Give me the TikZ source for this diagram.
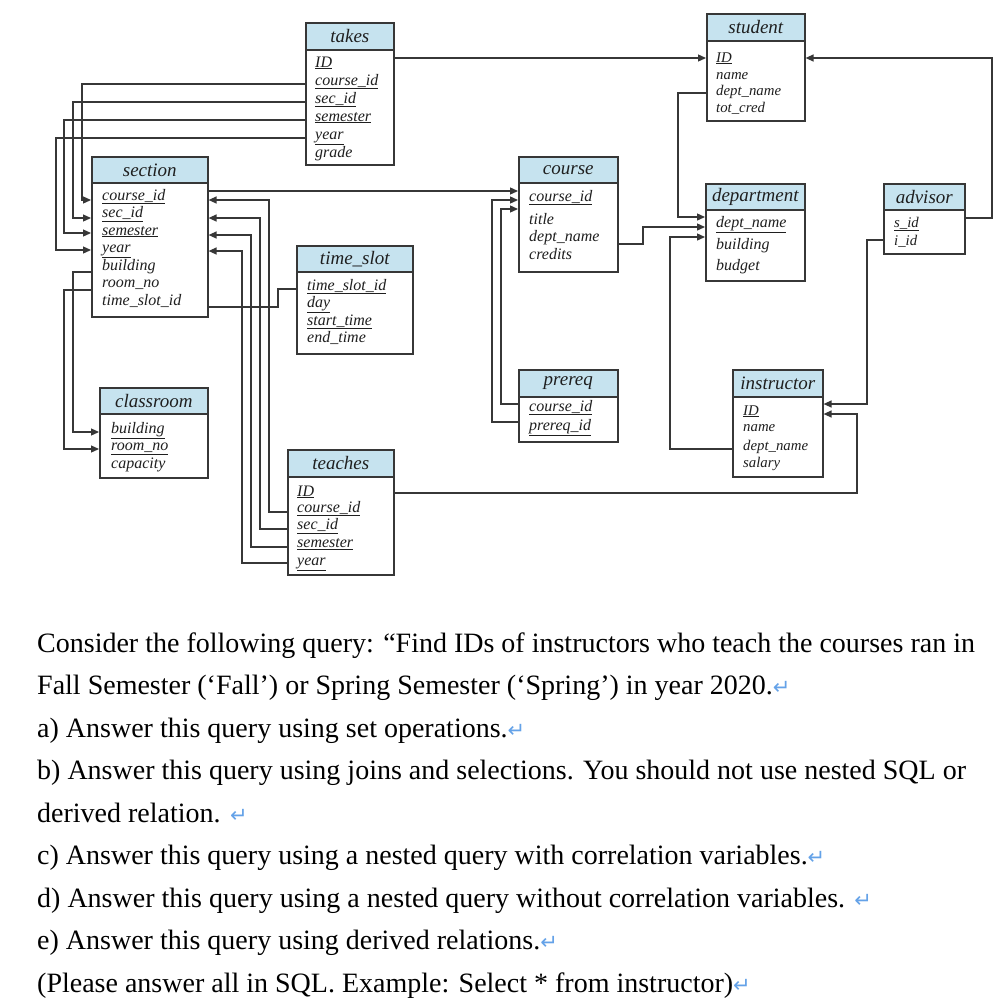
\documentclass[tikz,border=0pt]{standalone}
\usepackage{fontspec}
\usetikzlibrary{arrows.meta,calc}
\newfontfamily\bodyfont{Liberation Serif}
\newfontfamily\diagfont{Liberation Serif}
\newfontfamily\symfont{DejaVu Sans}
\definecolor{hdrblue}{RGB}{198,227,239}
\definecolor{linegray}{RGB}{55,55,55}
\definecolor{retblue}{RGB}{100,162,232}
\newcommand\retarr{{\symfont\fontsize{21}{21}\selectfont\color{retblue}↵}}
\begin{document}
\begin{tikzpicture}[x=1pt,y=-1pt,
 hdr/.style={draw=linegray, line width=1.6pt, fill=hdrblue, inner sep=0pt, anchor=north west, font=\diagfont\fontsize{19}{19}\selectfont\itshape, text=black!88},
 tbody/.style={draw=linegray, line width=1.6pt, fill=white, inner sep=0pt, anchor=north west},
 attr/.style={anchor=base west, inner sep=0pt, font=\diagfont\fontsize{16}{18}\selectfont\itshape, text=black!88},
 attrs/.style={anchor=base west, inner sep=0pt, font=\diagfont\fontsize{14.8}{16}\selectfont\itshape, text=black!88},
 conn/.style={draw=linegray, line width=1.3pt},
 arr/.style={conn, -{Triangle[length=8pt,width=7pt]}},
 txt/.style={anchor=base west, inner sep=0pt, font=\bodyfont\fontsize{28}{28}\selectfont},
]
\useasboundingbox[fill=white] (0,0) rectangle (1007,1005);

% ---------- takes ----------
\node[hdr, minimum width=88, minimum height=27] (takes-h) at (305,22) {takes};
\node[tbody, minimum width=88, minimum height=115] (takes) at (305,49) {};
\node[attr] (tk1) at (315,67) {\underline{ID}};
\node[attr] (tk2) at (315,85) {\underline{course\_id}};
\node[attr] (tk3) at (315,103) {\underline{sec\_id}};
\node[attr] (tk4) at (315,121) {\underline{semester}};
\node[attr] (tk5) at (315,139) {\underline{year}};
\node[attr] (tk6) at (315,157) {grade};

% ---------- student ----------
\node[hdr, minimum width=98, minimum height=27] (student-h) at (706,13) {student};
\node[tbody, minimum width=98, minimum height=80] (student) at (706,40) {};
\node[attrs] (st1) at (716,62) {\underline{ID}};
\node[attrs] (st2) at (716,79) {name};
\node[attrs] (st3) at (716,95.5) {dept\_name};
\node[attrs] (st4) at (716,112) {tot\_cred};

% ---------- section ----------
\node[hdr, minimum width=116, minimum height=26] (section-h) at (91,156) {section};
\node[tbody, minimum width=116, minimum height=134] (section) at (91,182) {};
\node[attr] (se1) at (102,200) {\underline{course\_id}};
\node[attr] (se2) at (102,217.5) {\underline{sec\_id}};
\node[attr] (se3) at (102,235) {\underline{semester}};
\node[attr] (se4) at (102,252.5) {\underline{year}};
\node[attr] (se5) at (102,270) {building};
\node[attr] (se6) at (102,287.5) {room\_no};
\node[attr] (se7) at (102,305) {time\_slot\_id};

% ---------- course ----------
\node[hdr, minimum width=99, minimum height=26] (course-h) at (518,156) {course};
\node[tbody, minimum width=99, minimum height=89] (course) at (518,182) {};
\node[attr] (co1) at (529,201) {\underline{course\_id}};
\node[attr] (co2) at (529,224) {title};
\node[attr] (co3) at (529,241) {dept\_name};
\node[attr] (co4) at (529,259) {credits};

% ---------- department ----------
\node[hdr, minimum width=99, minimum height=26] (department-h) at (705,183) {department};
\node[tbody, minimum width=99, minimum height=71] (department) at (705,209) {};
\node[attr] (de1) at (716,227) {\underline{dept\_name}};
\node[attr] (de2) at (716,249.5) {building};
\node[attr] (de3) at (716,270) {budget};

% ---------- advisor ----------
\node[hdr, minimum width=81, minimum height=26] (advisor-h) at (883,183) {advisor};
\node[tbody, minimum width=81, minimum height=44] (advisor) at (883,209) {};
\node[attrs] (ad1) at (894,227) {\underline{s\_id}};
\node[attrs] (ad2) at (894,245) {i\_id};

% ---------- time_slot ----------
\node[hdr, minimum width=116, minimum height=26] (timeslot-h) at (296,245) {time\_slot};
\node[tbody, minimum width=116, minimum height=82] (timeslot) at (296,271) {};
\node[attr] (ts1) at (307,290) {\underline{time\_slot\_id}};
\node[attr] (ts2) at (307,307.5) {\underline{day}};
\node[attr] (ts3) at (307,325) {\underline{start\_time}};
\node[attr] (ts4) at (307,342.5) {end\_time};

% ---------- classroom ----------
\node[hdr, minimum width=108, minimum height=26] (classroom-h) at (99,387) {classroom};
\node[tbody, minimum width=108, minimum height=64] (classroom) at (99,413) {};
\node[attr] (cl1) at (111,433) {\underline{building}};
\node[attr] (cl2) at (111,450.5) {\underline{room\_no}};
\node[attr] (cl3) at (111,468) {capacity};

% ---------- teaches ----------
\node[hdr, minimum width=106, minimum height=27] (teaches-h) at (287,449) {teaches};
\node[tbody, minimum width=106, minimum height=98] (teaches) at (287,476) {};
\node[attr] (te1) at (297,496) {\underline{ID}};
\node[attr] (te2) at (297,512) {\underline{course\_id}};
\node[attr] (te3) at (297,529.5) {\underline{sec\_id}};
\node[attr] (te4) at (297,547.5) {\underline{semester}};
\node[attr] (te5) at (297,565) {\underline{year}};

% ---------- prereq ----------
\node[hdr, minimum width=99, minimum height=27] (prereq-h) at (518,369) {prereq};
\node[tbody, minimum width=99, minimum height=45] (prereq) at (518,396) {};
\node[attr] (pr1) at (529,411) {\underline{course\_id}};
\node[attr] (pr2) at (529,430) {\underline{prereq\_id}};

% ---------- instructor ----------
\node[hdr, minimum width=90, minimum height=27] (instructor-h) at (732,369) {instructor};
\node[tbody, minimum width=90, minimum height=80] (instructor) at (732,396) {};
\node[attrs] (in1) at (743,415) {\underline{ID}};
\node[attrs] (in2) at (743,431.5) {name};
\node[attrs] (in3) at (743,450) {dept\_name};
\node[attrs] (in4) at (743,467) {salary};

% ---------- connectors ----------
% takes -> student
\draw[arr] (takes.east |- 0,58) -- (student.west |- 0,58);
% takes -> section
\draw[arr] (takes.west |- 0,84) -| (82,200) -- (section.west |- 0,200);
\draw[arr] (takes.west |- 0,102) -| (73,218) -- (section.west |- 0,218);
\draw[arr] (takes.west |- 0,120) -| (64,233) -- (section.west |- 0,233);
\draw[arr] (takes.west |- 0,138) -| (56,250) -- (section.west |- 0,250);
% section -> classroom
\draw[arr] (section.west |- 0,272) -| (73,432) -- (classroom.west |- 0,432);
\draw[arr] (section.west |- 0,290) -| (64,449) -- (classroom.west |- 0,449);
% section -> time_slot
\draw[conn] (section.east |- 0,307) -| (278,289) -- (timeslot.west |- 0,289);
% section -> course
\draw[arr] (section.east |- 0,191) -- (course.west |- 0,191);
% teaches -> section
\draw[arr] (teaches.west |- 0,512) -| (269,200) -- (section.east |- 0,200);
\draw[arr] (teaches.west |- 0,529) -| (260,218) -- (section.east |- 0,218);
\draw[arr] (teaches.west |- 0,547) -| (251,235) -- (section.east |- 0,235);
\draw[arr] (teaches.west |- 0,563) -| (242,251) -- (section.east |- 0,251);
% prereq -> course
\draw[arr] (prereq.west |- 0,404) -| (501,209) -- (course.west |- 0,209);
\draw[arr] (prereq.west |- 0,422) -| (492,200) -- (course.west |- 0,200);
% -> department
\draw[arr] (student.west |- 0,93) -| (678,217) -- (department.west |- 0,217);
\draw[arr] (course.east |- 0,244) -| (643,227) -- (department.west |- 0,227);
\draw[arr] (instructor.west |- 0,449) -| (670,237) -- (department.west |- 0,237);
% advisor
\draw[arr] (advisor.east |- 0,218) -| (992,58) -- (student.east |- 0,58);
\draw[arr] (advisor.west |- 0,240) -| (867,404) -- (instructor.east |- 0,404);
% teaches -> instructor
\draw[arr] (teaches.east |- 0,493) -| (857,414) -- (instructor.east |- 0,414);

% ---------- question text ----------
\node[txt] (q1) at (37,652) {Consider the following query: “Find IDs of instructors who teach the courses ran in};
\node[txt] (q2) at (37,694.5) {Fall Semester (‘Fall’) or Spring Semester (‘Spring’) in year 2020.\retarr};
\node[txt] (q3) at (37,737) {a) Answer this query using set operations.\retarr};
\node[txt] (q4) at (37,779.5) {b) Answer this query using joins and selections. You should not use nested SQL or};
\node[txt] (q5) at (37,822) {derived relation. \retarr};
\node[txt] (q6) at (37,864.5) {c) Answer this query using a nested query with correlation variables.\retarr};
\node[txt] (q7) at (37,907) {d) Answer this query using a nested query without correlation variables. \retarr};
\node[txt] (q8) at (37,949.5) {e) Answer this query using derived relations.\retarr};
\node[txt] (q9) at (37,992) {(Please answer all in SQL. Example: Select * from instructor)\retarr};
\end{tikzpicture}
\end{document}
